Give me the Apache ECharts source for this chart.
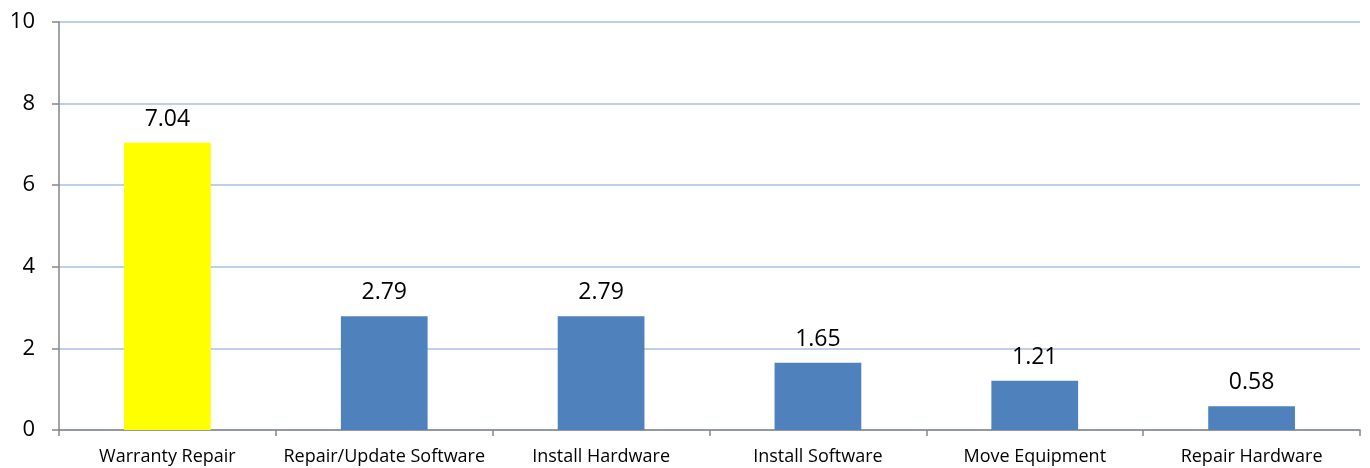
<!DOCTYPE html>
<html><head><meta charset="utf-8">
<script src="https://cdn.jsdelivr.net/npm/echarts@6/dist/echarts.min.js"></script>
<style>html,body{margin:0;padding:0;background:#fff}#c{width:1370px;height:468px}</style>
</head><body><div id="c"></div>
<script>
const categories = ['Warranty Repair','Repair/Update Software','Install Hardware','Install Software','Move Equipment','Repair Hardware'];
const values = [7.04, 2.79, 2.79, 1.65, 1.21, 0.58];
const barColors = ['#FFFF00','#4F81BD','#4F81BD','#4F81BD','#4F81BD','#4F81BD'];
const yTicks = {min:0, max:10, interval:2};

const chart = echarts.init(document.getElementById('c'));
chart.setOption({
  animation:false,
  grid:{left:59,right:10,top:22,bottom:38,containLabel:false},
  xAxis:{type:'category',data:categories,
    axisLine:{lineStyle:{color:'#868686',width:1.5}},
    axisTick:{show:true,length:6,lineStyle:{color:'#868686',width:1.5}},
    axisLabel:{interval:0,color:'#000',fontFamily:'Open Sans',fontSize:18,margin:18}},
  yAxis:{type:'value',min:yTicks.min,max:yTicks.max,interval:yTicks.interval,
    axisLine:{show:true,lineStyle:{color:'#868686',width:1.5}},
    axisTick:{show:true,length:7,lineStyle:{color:'#868686',width:1.5}},
    splitLine:{lineStyle:{color:'#A7BFE3',width:1.5}},
    axisLabel:{color:'#000',fontFamily:'Open Sans',fontSize:22,margin:24}},
  series:[{type:'bar',barWidth:'40%',
    data:values.map((v,i)=>({value:v,itemStyle:{color:barColors[i]}})),
    label:{show:true,position:'top',distance:12,color:'#000',fontFamily:'Open Sans',fontSize:23,formatter:p=>p.value.toFixed(2)}}]
});
</script></body></html>
